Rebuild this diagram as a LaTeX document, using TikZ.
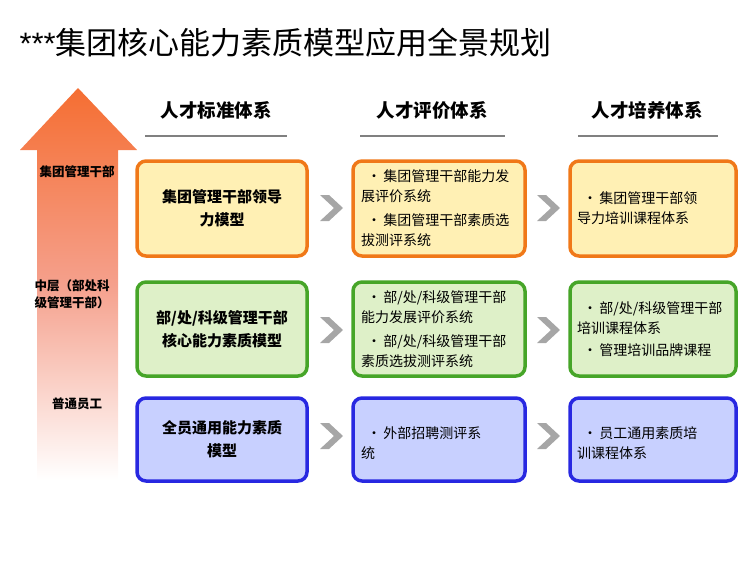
\documentclass[tikz,border=0pt]{standalone}
\usepackage{fontspec}
\setmainfont{Liberation Sans}
\newfontfamily\cjk{Noto Sans CJK SC}
\begin{document}
\begin{tikzpicture}[x=1pt,y=-1pt,font=\cjk,
 bx/.style={rounded corners=9pt,line width=3.5pt,minimum width=#1,minimum height=0},
 oa/.style={draw={rgb,255:red,240;green,120;blue,24},fill={rgb,255:red,255;green,240;blue,180}},
 gr/.style={draw={rgb,255:red,70;green,165;blue,40},fill={rgb,255:red,222;green,240;blue,200}},
 bl/.style={draw={rgb,255:red,40;green,40;blue,225},fill={rgb,255:red,200;green,208;blue,255}},
 hd/.style={font=\cjk\bfseries\fontsize{18.5}{22}\selectfont},
 tx/.style={font=\cjk\fontsize{14}{20}\selectfont,align=left,text width=156pt},
 ctx/.style={font=\cjk\bfseries\fontsize{15}{23}\selectfont,align=center},
 lab/.style={font=\cjk\bfseries\fontsize{12.5}{17}\selectfont,align=center},
 chev/.style={fill=gray!70,draw=none}]
\useasboundingbox (0,0) rectangle (750,562);
\node[anchor=west,font=\fontsize{31}{34}\selectfont] (title) at (16,43) {***\cjk 集团核心能力素质模型应用全景规划};
% arrow
\shade[top color={rgb,255:red,245;green,110;blue,50},bottom color=white,middle color={rgb,255:red,245;green,160;blue,140}]
 (78,88) -- (137,150) -- (118,150) -- (118,480) -- (37,480) -- (37,150) -- (20,150) -- cycle;
\node[lab] (l1) at (77,172) {集团管理干部};
\node[lab] (l2) at (72,294) {中层（部处科\\级管理干部）};
\node[lab] (l3) at (77,404) {普通员工};
% headers
\node[hd] (h1) at (216,110) {人才标准体系};
\node[hd] (h2) at (432,110) {人才评价体系};
\node[hd] (h3) at (647,110) {人才培养体系};
\foreach \a/\b in {145/287,360/505,578/718} \draw[gray,line width=2.5pt] (\a,136) -- (\b,136);
% boxes
\foreach \c/\xa/\xb in {1/137/307,2/353/525,3/570/736}{
 \foreach \r/\ya/\yb/\st in {1/161/256/oa,2/282/376/gr,3/398/481/bl}{
  \path[bx,\st] (\xa,\ya) rectangle (\xb,\yb);
  \coordinate (b\c\r) at ({(\xa+\xb)/2},{(\ya+\yb)/2});
 }}
\node[ctx] at (b11) {集团管理干部领导\\力模型};
\node[ctx] at (b12) {部/处/科级管理干部\\核心能力素质模型};
\node[ctx] at (b13) {全员通用能力素质\\模型};
\node[tx] at (b21) {\hspace*{6pt}•\,集团管理干部能力发\\展评价系统\\[4pt]\hspace*{6pt}•\,集团管理干部素质选\\拔测评系统};
\node[tx] at (b22) {\hspace*{6pt}•\,部/处/科级管理干部\\能力发展评价系统\\[4pt]\hspace*{6pt}•\,部/处/科级管理干部\\素质选拔测评系统};
\node[tx] at ([yshift=-4pt]b23) {\hspace*{6pt}•\,外部招聘测评系\\统};
\node[tx,text width=152pt] at (b31) {\hspace*{6pt}•\,集团管理干部领\\导力培训课程体系};
\node[tx,text width=152pt] at (b32) {\hspace*{6pt}•\,部/处/科级管理干部\\培训课程体系\\[2pt]\hspace*{6pt}•\,管理培训品牌课程};
\node[tx,text width=152pt] at ([yshift=-4pt]b33) {\hspace*{6pt}•\,员工通用素质培\\训课程体系};
% chevrons
\foreach \x in {320,537} \foreach \y in {208,330,436}
 \fill[chev] (\x,\y-13) -- (\x+9,\y-13) -- (\x+23,\y) -- (\x+9,\y+13) -- (\x,\y+13) -- (\x+14,\y) -- cycle;
\end{tikzpicture}
\end{document}
